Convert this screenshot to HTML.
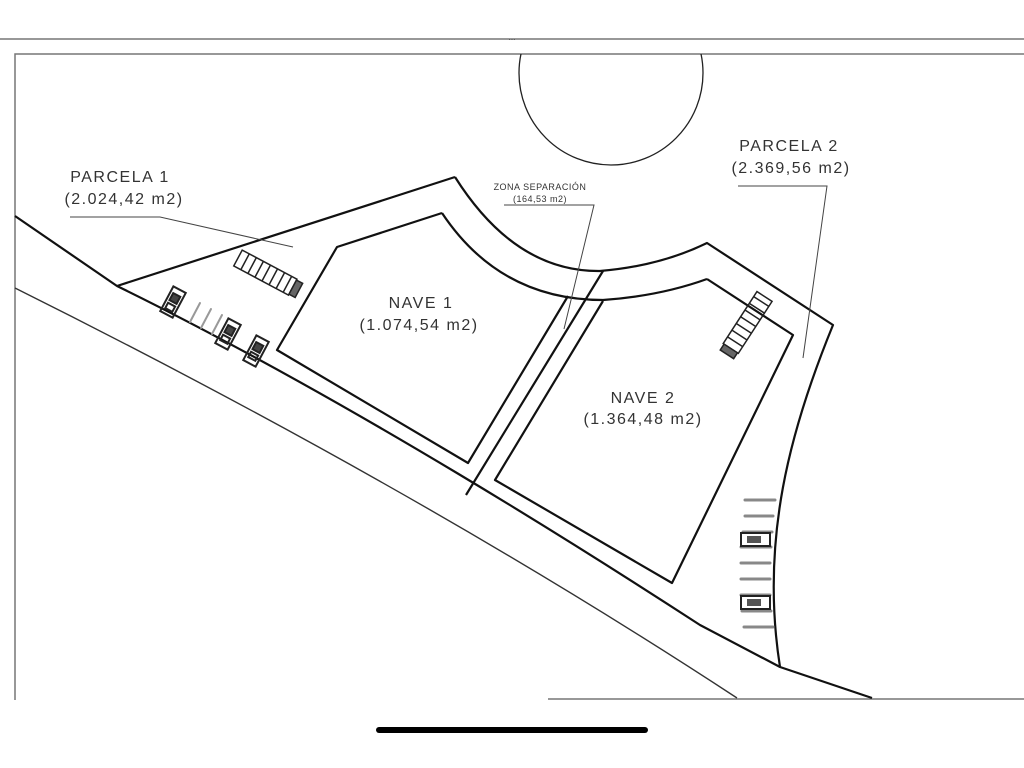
<!DOCTYPE html>
<html><head><meta charset="utf-8"><style>
html,body{margin:0;padding:0;background:#fff;}
svg{display:block;}
text{font-family:"Liberation Sans",sans-serif;fill:#333;}
</style></head><body>
<svg width="1024" height="768" viewBox="0 0 1024 768" xmlns="http://www.w3.org/2000/svg">
<rect width="1024" height="768" fill="#fff"/>
<line x1="0" y1="39" x2="1024" y2="39" stroke="#777" stroke-width="1.5"/>
<text x="512" y="40" font-size="8" text-anchor="middle" fill="#555">...</text>
<path d="M1024,54 H15 V700" fill="none" stroke="#777" stroke-width="1.5"/>
<line x1="548" y1="699" x2="1024" y2="699" stroke="#777" stroke-width="1.5"/>
<clipPath id="c"><rect x="0" y="54" width="1024" height="700"/></clipPath>
<circle cx="611" cy="73" r="92" fill="none" stroke="#222" stroke-width="1.3" clip-path="url(#c)"/>
<g fill="none" stroke="#111" stroke-width="2.2" stroke-linejoin="round">
<path d="M15,216 L117,286 C 350,400 600,560 700,625 L780,667 L872,698"/>
<path d="M117,286 L455,177"/>
<path d="M455,177 Q 515,272 600,271 Q 660,266 707,243 L833,325 C 790,430 760,540 780,667"/>
<path d="M442,213 Q 500,300 603,300 Q 660,296 707,279"/>
<path d="M442,213 L337,247 L277,350 L468,463 L568,296"/>
<path d="M603,271 L466,495"/>
<path d="M603,301 L495,480 L672,583 L793,335 L707,279"/>
</g>
<path d="M15,288 Q 420,490 737,698" fill="none" stroke="#333" stroke-width="1.4"/>
<g fill="none" stroke="#444" stroke-width="1">
<path d="M70,217 L160,217 L293,247"/>
<path d="M504,205 L594,205 L564,329"/>
<path d="M738,186 L827,186 L803,358"/>
</g>
<g transform="translate(268,274) rotate(28)" fill="none" stroke="#222" stroke-width="1.5">
<rect x="-34" y="-9" width="62" height="18"/>
<line x1="-26" y1="-9" x2="-26" y2="9"/><line x1="-18" y1="-9" x2="-18" y2="9"/>
<line x1="-10" y1="-9" x2="-10" y2="9"/><line x1="-2" y1="-9" x2="-2" y2="9"/>
<line x1="6" y1="-9" x2="6" y2="9"/><line x1="14" y1="-9" x2="14" y2="9"/>
<line x1="22" y1="-9" x2="22" y2="9"/>
<rect x="28" y="-8" width="7" height="16" fill="#666"/>
</g>
<g transform="translate(746,325) rotate(-57)" fill="none" stroke="#222" stroke-width="1.5">
<rect x="-28" y="-9" width="62" height="18"/>
<line x1="-20" y1="-9" x2="-20" y2="9"/><line x1="-12" y1="-9" x2="-12" y2="9"/>
<line x1="-4" y1="-9" x2="-4" y2="9"/><line x1="4" y1="-9" x2="4" y2="9"/>
<line x1="12" y1="-9" x2="12" y2="9"/><line x1="20" y1="-9" x2="20" y2="9"/>
<line x1="28" y1="-9" x2="28" y2="9"/>
<rect x="-35" y="-8" width="7" height="16" fill="#666"/>
</g>
<g fill="none" stroke="#222" stroke-width="2">
<g transform="translate(173,302) rotate(28)"><rect x="-7" y="-14" width="14" height="28"/><rect x="-4" y="-8" width="8" height="8" fill="#444"/><rect x="-4" y="3" width="8" height="6"/></g>
<g transform="translate(228,334) rotate(28)"><rect x="-7" y="-14" width="14" height="28"/><rect x="-4" y="-8" width="8" height="8" fill="#444"/><rect x="-4" y="3" width="8" height="6"/></g>
<g transform="translate(256,351) rotate(28)"><rect x="-7" y="-14" width="14" height="28"/><rect x="-4" y="-8" width="8" height="8" fill="#444"/><rect x="-4" y="3" width="8" height="6"/></g>
</g>
<g stroke="#999" stroke-width="2" stroke-linecap="round">
<line x1="190" y1="322" x2="200" y2="303"/><line x1="201" y1="328" x2="211" y2="309"/><line x1="212" y1="334" x2="222" y2="315"/>
</g>
<g stroke="#888" stroke-width="3" stroke-linecap="round">
<line x1="745" y1="500" x2="775" y2="500"/><line x1="745" y1="516" x2="773" y2="516"/>
<line x1="743" y1="532" x2="772" y2="532"/><line x1="741" y1="547" x2="771" y2="547"/>
<line x1="741" y1="563" x2="770" y2="563"/><line x1="741" y1="579" x2="770" y2="579"/>
<line x1="741" y1="595" x2="770" y2="595"/><line x1="742" y1="611" x2="771" y2="611"/>
<line x1="744" y1="627" x2="773" y2="627"/>
</g>
<g fill="#fff" stroke="#222" stroke-width="2">
<rect x="741" y="533" width="29" height="13"/><rect x="741" y="596" width="29" height="13"/>
</g>
<g fill="#555"><rect x="747" y="536" width="14" height="7"/><rect x="747" y="599" width="14" height="7"/></g>
<g font-size="16" text-anchor="middle" letter-spacing="1.5">
<text x="120" y="182">PARCELA 1</text>
<text x="124" y="204">(2.024,42 m2)</text>
<text x="789" y="151">PARCELA 2</text>
<text x="791" y="173">(2.369,56 m2)</text>
<text x="421" y="308">NAVE 1</text>
<text x="419" y="330">(1.074,54 m2)</text>
<text x="643" y="403">NAVE 2</text>
<text x="643" y="424">(1.364,48 m2)</text>
</g>
<g font-size="9" text-anchor="middle" letter-spacing="0.5">
<text x="540" y="190">ZONA SEPARACIÓN</text>
<text x="540" y="202">(164,53 m2)</text>
</g>
<rect x="376" y="727" width="272" height="6" rx="3" fill="#000"/>
</svg>
</body></html>
